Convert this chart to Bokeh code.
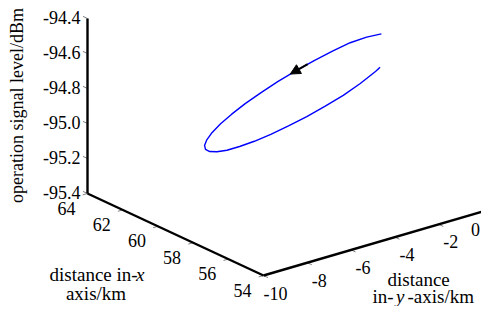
import numpy as np
from bokeh.plotting import figure
from bokeh.models import Range1d, Label, Arrow, NormalHead
from bokeh.core.properties import value
from bokeh.embed import file_html
from bokeh.resources import INLINE

# ---------------- data ----------------
dist_x = [58.604, 59.242, 59.842, 60.386, 60.857, 61.241, 61.527, 61.706, 61.773, 61.724,
          61.562, 61.293, 60.922, 60.465, 59.931, 59.338, 58.705, 58.051, 57.396, 56.758,
          56.158, 55.614, 55.143, 54.759, 54.473, 54.294, 54.227, 54.230]
dist_y = [-0.916, -1.078, -1.347, -1.718, -2.175, -2.709, -3.302, -3.935, -4.589, -5.244,
          -5.882, -6.482, -7.026, -7.497, -7.881, -8.167, -8.346, -8.413, -8.364, -8.202,
          -7.933, -7.562, -7.105, -6.571, -5.978, -5.345, -4.691, -4.493]
signal = [-94.567, -94.610, -94.660, -94.720, -94.779, -94.837, -94.890, -94.939, -94.980, -95.014,
          -95.038, -95.053, -95.058, -95.051, -95.035, -95.009, -94.974, -94.932, -94.882, -94.828,
          -94.770, -94.710, -94.651, -94.593, -94.540, -94.487, -94.438, -94.422]

arrow_from = [61.002, -2.355, -94.800]
arrow_to = [61.338, -2.882, -94.853]

x_ticks = [64, 62, 60, 58, 56, 54]
y_ticks = [-10, -8, -6, -4, -2, 0]
z_ticks = [-94.4, -94.6, -94.8, -95.0, -95.2, -95.4]
z_tick_labels = ["-94.4", "-94.6", "-94.8", "-95.0", "-95.2", "-95.4"]

x_lim = [54, 64]
y_lim = [-10, 0]
z_lim = [-95.4, -94.4]

# ---------------- 3-D view (projection onto the canvas) ----------------
ORIGIN = np.array([87.0, 193.0])      # (x=64, y=-10, z=-95.4)
EX = np.array([-17.6, -8.2])          # per km of x
EY = np.array([21.9, -6.4])           # per km of y
EZ = np.array([0.0, -175.0])          # per dB


def proj(x, y, z):
    x = np.asarray(x, float); y = np.asarray(y, float); z = np.asarray(z, float)
    px = ORIGIN[0] + (x - x_lim[1]) * EX[0] + (y - y_lim[0]) * EY[0] + (z - z_lim[0]) * EZ[0]
    py = ORIGIN[1] + (x - x_lim[1]) * EX[1] + (y - y_lim[0]) * EY[1] + (z - z_lim[0]) * EZ[1]
    return px, py


W, H = 481, 306
p = figure(width=W, height=H, x_range=Range1d(0, W), y_range=Range1d(H, 0),
           x_axis_type=None, y_axis_type=None, toolbar_location=None,
           output_backend="svg", min_border=0)
p.outline_line_color = None
p.grid.visible = False
p.background_fill_color = "white"

FONT = value("Liberation Serif")
TICK_FS = value("18px")

# ---- tick marks (grey stubs) ----
exn = EX / np.linalg.norm(EX)
eyn = EY / np.linalg.norm(EY)
L = 5.0
zx0, zy0 = proj([x_lim[1]] * len(z_ticks), [y_lim[0]] * len(z_ticks), z_ticks)
p.segment(zx0, zy0, zx0 + L * exn[0], zy0 + L * exn[1], line_color="#808080", line_width=1)
xx0, xy0 = proj(x_ticks, [y_lim[0]] * len(x_ticks), [z_lim[0]] * len(x_ticks))
p.segment(xx0, xy0, xx0 - L * eyn[0], xy0 - L * eyn[1], line_color="#808080", line_width=1)
yx0, yy0 = proj([x_lim[0]] * len(y_ticks), y_ticks, [z_lim[0]] * len(y_ticks))
p.segment(yx0, yy0, yx0 - L * exn[0], yy0 - L * exn[1], line_color="#808080", line_width=1)

# ---- axis lines ----
ax_z = proj([x_lim[1], x_lim[1]], [y_lim[0], y_lim[0]], z_lim)
ax_x = proj(x_lim[::-1], [y_lim[0], y_lim[0]], [z_lim[0], z_lim[0]])
ax_y = proj([x_lim[0], x_lim[0]], y_lim, [z_lim[0], z_lim[0]])
for ax in (ax_z, ax_x, ax_y):
    p.line(ax[0], ax[1], line_color="black", line_width=2.4)

# ---- tick labels ----
p.text(zx0 - 7, zy0 - 1.5, text=z_tick_labels, text_font=FONT, text_font_size=TICK_FS,
       text_align="right", text_baseline="middle", text_color="black")
p.text(xx0 - 21, xy0 + 14.5, text=[str(v) for v in x_ticks], text_font=FONT,
       text_font_size=TICK_FS, text_align="center", text_baseline="middle", text_color="black")
ylab_x = yx0 + 12
ylab_x[-1] = min(ylab_x[-1], W - 6)     # keep the last label inside the canvas
p.text(ylab_x, yy0 + 17.5, text=[str(v) for v in y_ticks], text_font=FONT,
       text_font_size=TICK_FS, text_align="center", text_baseline="middle", text_color="black")

# ---- trajectory ----
cx, cy = proj(dist_x, dist_y, signal)
p.line(cx, cy, line_color="#0000ff", line_width=1.4)

ax0, ay0 = proj(*arrow_from)
ax1, ay1 = proj(*arrow_to)
p.add_layout(Arrow(end=NormalHead(size=10, fill_color="black", line_color="black", line_width=1),
                   x_start=float(ax0), y_start=float(ay0), x_end=float(ax1), y_end=float(ay1),
                   line_color="black", line_width=2))

# ---- axis titles ----
def lab(x, y, t, size="19px", style="normal", align="left", baseline="alphabetic", angle=0):
    p.add_layout(Label(x=x, y=y, text=t, text_font="Liberation Serif", text_font_size=size,
                       text_font_style=style, text_align=align, text_baseline=baseline,
                       angle=angle, angle_units="deg", text_color="black"))

lab(16, 105, "operation signal level/dBm", size="18px", align="center", baseline="middle", angle=90)

lab(49, 273.5, "distance in-")
lab(135.5, 273.5, "x", style="italic")
lab(95.5, 292.7, "axis/km", align="center")

lab(387, 279, "distance")
lab(372, 296, "in-")
lab(395.5, 296, "y", style="italic")
lab(407, 296, "-axis/km")

open("out.html", "w").write(file_html(p, INLINE))
